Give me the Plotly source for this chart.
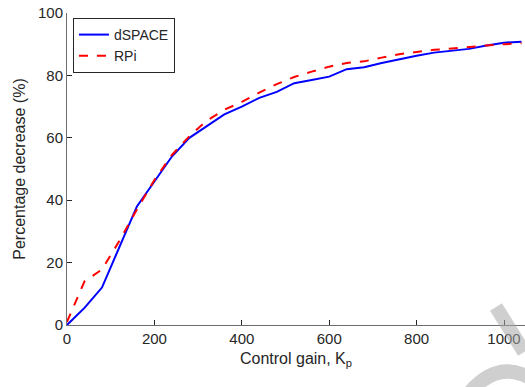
import plotly.graph_objects as go

kp = [0, 40, 80, 120, 160, 200, 240, 280, 320, 360, 400, 440, 480, 520, 560, 600,
      640, 680, 720, 760, 800, 840, 880, 920, 960, 1000, 1040]
dspace = [0, 5.5, 12, 25, 38, 46, 54, 60, 63.8, 67.5, 70, 72.8, 74.7, 77.5, 78.5, 79.6,
          82, 82.6, 84, 85.2, 86.3, 87.3, 88, 88.5, 89.6, 90.5, 90.8]
rpi = [1, 14, 17.8, 27, 37, 46.5, 54.5, 60.5, 65.5, 69, 71.5, 74.5, 77.2, 79.5, 81.2, 82.8,
       84, 84.5, 85.7, 86.8, 87.5, 88.2, 88.6, 89.2, 89.6, 90, 90.3]

x_ticks = [0, 200, 400, 600, 800, 1000]
y_ticks = [0, 20, 40, 60, 80, 100]

fig = go.Figure()
fig.add_trace(go.Scatter(x=kp, y=dspace, mode="lines", name="dSPACE",
                         line=dict(color="#0000ff", width=2)))
fig.add_trace(go.Scatter(x=kp, y=rpi, mode="lines", name="RPi",
                         line=dict(color="#ff0000", width=2, dash="dash")))

axis_common = dict(showgrid=False, zeroline=False, showline=True, linecolor="#6e6e6e",
                   linewidth=1, ticks="inside", ticklen=5, tickcolor="#262626",
                   tickfont=dict(family="Liberation Sans, Arial", size=15, color="#262626"),
                   mirror=False)

# light grey watermark fragments (bottom-right corner), in pixel -> paper coords
def px(X):
    return (X - 67) / 458

def py(Y):
    return (325 - Y) / 312

wm = dict(color="#a8a8a8", width=14)
shapes = [
    dict(type="line", xref="paper", yref="paper", layer="above", opacity=0.55,
         x0=px(496), y0=py(307), x1=px(524), y1=py(352), line=wm),
    dict(type="path", xref="paper", yref="paper", layer="above", opacity=0.55,
         path=f"M {px(470)} {py(392)} Q {px(498)} {py(360)} {px(530)} {py(378)}",
         line=wm),
]

fig.update_layout(
    width=525, height=387,
    margin=dict(l=67, r=0, t=13, b=62),
    plot_bgcolor="white", paper_bgcolor="white",
    font=dict(family="Liberation Sans, Arial", color="#262626"),
    xaxis=dict(range=[0, 1048], tickvals=x_ticks,
               title=dict(text="Control gain, K<sub>p</sub>", font=dict(size=16), standoff=6),
               **axis_common),
    yaxis=dict(range=[0, 100], tickvals=y_ticks,
               title=dict(text="Percentage decrease (%)", font=dict(size=16), standoff=8),
               **axis_common),
    legend=dict(x=0.013, y=0.984, xanchor="left", yanchor="top",
                bgcolor="white", bordercolor="#262626", borderwidth=1,
                font=dict(size=14, color="#262626"), tracegroupgap=0,
                itemwidth=30),
    shapes=shapes,
    showlegend=True,
)

fig.write_html("out.html")
